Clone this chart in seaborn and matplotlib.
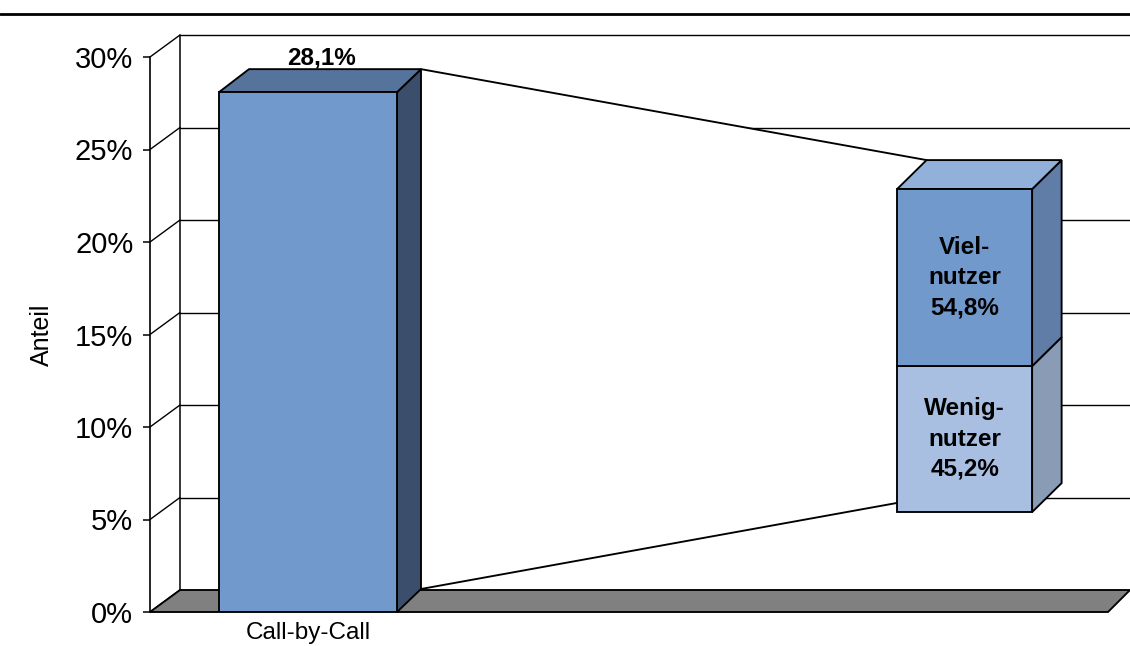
import matplotlib
matplotlib.use("Agg")
import matplotlib.pyplot as plt
import seaborn as sns
import pandas as pd
from matplotlib.patches import Polygon
from matplotlib.lines import Line2D

# ---- data -------------------------------------------------------------
categories = ["Call-by-Call"]
shares = [28.1]                                   # % of all users
segment_names = ["Wenig-\nnutzer", "Viel-\nnutzer"]
segment_shares = [45.2, 54.8]                     # split of the 28,1 %
y_ticks = [0, 5, 10, 15, 20, 25, 30]
y_tick_labels = ["0%", "5%", "10%", "15%", "20%", "25%", "30%"]
axis_label = "Anteil"

# ---- layout -----------------------------------------------------------
W, H = 1130, 646
PX_X = 222.5          # pixels per category unit
PX_Y = 18.5           # pixels per percent
AX_LEFT, AX_BOTTOM = 150, 612
XMIN = -(308 - AX_LEFT) / PX_X
XMAX = XMIN + (W - AX_LEFT) / PX_X
YMAX = AX_BOTTOM / PX_Y

WALL_DX, WALL_DY = 30 / PX_X, 22 / PX_Y           # depth of walls/floor
FLOOR_RIGHT = XMAX - 22 / PX_X
BAR_W = 0.8
BAR_DXL, BAR_DXR, BAR_DY = 30 / PX_X, 24 / PX_X, 23 / PX_Y
STACK_X, STACK_W = 2.951, 0.607
STACK_BASE, STACK_HEIGHT = 5.4, 17.46             # height used for 100 %
STACK_DX, STACK_DY = 29.5 / PX_X, 29 / PX_Y

MAIN_FRONT, MAIN_TOP, MAIN_SIDE = "#7299CC", "#55739B", "#3B4F6D"
SEG_FRONT = ["#A9BFE2", "#7299CC"]
SEG_SIDE = ["#8A9BB6", "#5F7DA7"]
SEG_TOP = "#92B1DA"
FLOOR = "#808080"
LW = 1.35

sns.set_theme(style="white")
plt.rcParams["font.family"] = ["Liberation Sans", "DejaVu Sans"]
plt.rcParams["text.color"] = "black"

fig = plt.figure(figsize=(W / 100, H / 100), dpi=100)
ax = fig.add_axes([AX_LEFT / W, (H - AX_BOTTOM) / H, (W - AX_LEFT) / W, AX_BOTTOM / H])

# front faces of the main bar
df = pd.DataFrame({"Kategorie": categories, "Anteil": shares})
sns.barplot(data=df, x="Kategorie", y="Anteil", ax=ax, color=MAIN_FRONT,
            saturation=1, width=BAR_W, edgecolor="black", linewidth=LW,
            errorbar=None)
for p in ax.patches:
    p.set_zorder(5)


def face(pts, color, z):
    ax.add_patch(Polygon(pts, closed=True, facecolor=color, edgecolor="black",
                         linewidth=LW, joinstyle="miter", zorder=z, clip_on=False))


# back wall gridlines, left wall and floor
for v in y_ticks[1:]:
    ax.plot([XMIN + WALL_DX, XMAX], [v + WALL_DY] * 2, color="black", lw=1.0, zorder=1)
for v in y_ticks:
    ax.plot([XMIN, XMIN + WALL_DX], [v, v + WALL_DY], color="black", lw=1.0, zorder=1)
ax.plot([XMIN + WALL_DX] * 2, [WALL_DY, y_ticks[-1] + WALL_DY], color="black", lw=1.1, zorder=1)
face([(XMIN, 0), (FLOOR_RIGHT, 0), (XMAX, WALL_DY), (XMIN + WALL_DX, WALL_DY)], FLOOR, 2)

# 3D faces of the main bar
for i, v in enumerate(shares):
    x0, x1 = i - BAR_W / 2, i + BAR_W / 2
    face([(x1, 0), (x1, v), (x1 + BAR_DXR, v + BAR_DY), (x1 + BAR_DXR, BAR_DY)], MAIN_SIDE, 4)
    face([(x0, v), (x1, v), (x1 + BAR_DXR, v + BAR_DY), (x0 + BAR_DXL, v + BAR_DY)], MAIN_TOP, 4)
    lab = f"{v:.1f}".replace(".", ",") + "%"
    ax.annotate(lab, (i + (BAR_DXL + BAR_DXR) / 4, v + BAR_DY), xytext=(0, 3),
                textcoords="offset points", ha="center", va="baseline",
                fontsize=17.5, fontweight="bold", color="black", zorder=8)

# stacked breakdown bar
s0, s1 = STACK_X - STACK_W / 2, STACK_X + STACK_W / 2
heights = [s / 100 * STACK_HEIGHT for s in segment_shares]
bottoms = [STACK_BASE, STACK_BASE + heights[0]]
stack_top = STACK_BASE + sum(heights)

# connector from the main bar to the breakdown
p_top0 = (BAR_W / 2 + BAR_DXR, shares[0] + BAR_DY)
p_top1 = (s0 + STACK_DX, stack_top + STACK_DY)
p_bot0 = (BAR_W / 2 + BAR_DXR, BAR_DY)
p_bot1 = (s0 + STACK_DX, STACK_BASE + STACK_DY / 2)
ax.add_patch(Polygon([p_top0, p_top1, (s1 + STACK_DX, stack_top + STACK_DY),
                      (s1 + STACK_DX, STACK_BASE + STACK_DY), (s1, STACK_BASE),
                      (s0, STACK_BASE), p_bot1, p_bot0],
                     closed=True, facecolor="white", edgecolor="none", zorder=3))
ax.plot([p_top0[0], p_top1[0]], [p_top0[1], p_top1[1]], color="black", lw=LW, zorder=3)
ax.plot([p_bot0[0], p_bot1[0]], [p_bot0[1], p_bot1[1]], color="black", lw=LW, zorder=3)

ax.bar([STACK_X] * 2, heights, bottom=bottoms, width=STACK_W, color=SEG_FRONT,
       edgecolor="black", linewidth=LW, zorder=7)
for b, h, side, name, s in zip(bottoms, heights, SEG_SIDE, segment_names, segment_shares):
    face([(s1, b), (s1, b + h), (s1 + STACK_DX, b + h + STACK_DY), (s1 + STACK_DX, b + STACK_DY)],
         side, 6)
    lab = name + "\n" + f"{s:.1f}".replace(".", ",") + "%"
    ax.text(STACK_X, b + h / 2, lab, ha="center", va="center", fontsize=17.5,
            fontweight="bold", color="black", linespacing=1.4, zorder=8)
face([(s0, stack_top), (s1, stack_top), (s1 + STACK_DX, stack_top + STACK_DY),
      (s0 + STACK_DX, stack_top + STACK_DY)], SEG_TOP, 6)

# axes
ax.set_xlim(XMIN, XMAX)
ax.set_ylim(0, YMAX)
for sp in ["top", "right", "bottom"]:
    ax.spines[sp].set_visible(False)
ax.spines["left"].set_bounds(0, y_ticks[-1])
ax.spines["left"].set_linewidth(1.2)
ax.spines["left"].set_color("black")
ax.set_yticks(y_ticks)
ax.set_yticklabels(y_tick_labels)
ax.tick_params(axis="y", left=True, length=5, width=1.1, pad=7, labelsize=21,
               color="black", labelcolor="black")
ax.tick_params(axis="x", bottom=False, length=0, pad=7, labelsize=17.5, labelcolor="black")
ax.set_xlabel("")
ax.set_ylabel(axis_label, fontsize=18, color="black")
ax.yaxis.set_label_coords((42 - AX_LEFT) / (W - AX_LEFT), 15 / YMAX)
ax.yaxis.label.set_verticalalignment("center")
ax.patch.set_visible(False)

fig.add_artist(Line2D([0, 1], [1 - 14 / H] * 2, transform=fig.transFigure,
                      color="black", lw=2.0))

fig.savefig("out.png", dpi=100)
